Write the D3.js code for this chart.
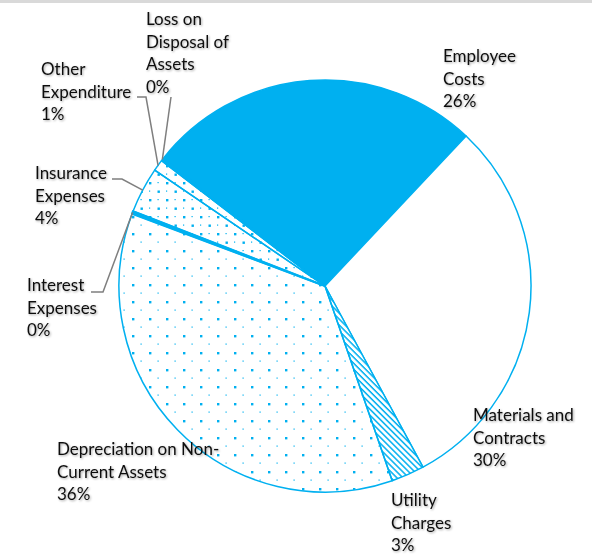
<!DOCTYPE html>
<html lang="en">
<head>
<meta charset="UTF-8">
<title>Expenditure Pie</title>
<script src="https://d3js.org/d3.v7.min.js"></script>
<style>
  body { margin: 0; background: #fff; }
  svg { display: block; }
  .lbl { font-family: Lato, "Noto Sans", sans-serif; font-size: 17px; fill: #111; }
</style>
</head>
<body>
<div id="chart"></div>
<script>
// data (percent of total expenditure)
const categories = ["Employee Costs", "Materials and Contracts", "Utility Charges",
  "Depreciation on Non-Current Assets", "Interest Expenses", "Insurance Expenses",
  "Other Expenditure", "Loss on Disposal of Assets"];
const values = [26.4, 30.1, 2.6, 36.0, 0.2, 3.6, 0.9, 0.2];
const pctLabels = ["26%", "30%", "3%", "36%", "0%", "4%", "1%", "0%"];
const labelLines = [
  ["Employee", "Costs"],
  ["Materials and", "Contracts"],
  ["Utility", "Charges"],
  ["Depreciation on Non-", "Current Assets"],
  ["Interest", "Expenses"],
  ["Insurance", "Expenses"],
  ["Other", "Expenditure"],
  ["Loss on", "Disposal of", "Assets"]
];

const width = 592, height = 559;
const cx = 325, cy = 286, r = 206;
const blue = "#00B0F0";
const startDeg = -51.8;

// where each label block sits (left x, first baseline y) and its elbow, if any
const labelAt = [[443, 62], [473, 421], [391, 506], [57, 455], [27, 291], [35, 179], [41, 75], [146, 25]];
const elbow = [null, null, null, null, [[91, 292], [103, 292]], [[112, 179], [122, 179]], [[137, 97], [146, 97]], [[171, 97]]];

const svg = d3.select("#chart").append("svg")
  .attr("width", width).attr("height", height);

svg.append("rect").attr("width", width).attr("height", 3).attr("fill", "#d9d9d9");

const defs = svg.append("defs");

// sparse dots
const p1 = defs.append("pattern").attr("id", "dots").attr("patternUnits", "userSpaceOnUse")
  .attr("x", 11).attr("y", 15).attr("width", 17).attr("height", 17);
p1.append("rect").attr("x", 0).attr("y", 0).attr("width", 2.4).attr("height", 2.4).attr("fill", blue);
p1.append("rect").attr("x", 8.5).attr("y", 8.5).attr("width", 1.2).attr("height", 1.2).attr("fill", blue);

// denser dots
const p2 = defs.append("pattern").attr("id", "dots2").attr("patternUnits", "userSpaceOnUse")
  .attr("x", 11).attr("y", 15).attr("width", 17).attr("height", 17);
p2.append("rect").attr("x", 0).attr("y", 0).attr("width", 2.4).attr("height", 2.4).attr("fill", blue);
p2.append("rect").attr("x", 8.5).attr("y", 8.5).attr("width", 2.4).attr("height", 2.4).attr("fill", blue);
p2.append("rect").attr("x", 8.5).attr("y", 0).attr("width", 1.2).attr("height", 1.2).attr("fill", blue);
p2.append("rect").attr("x", 0).attr("y", 8.5).attr("width", 1.2).attr("height", 1.2).attr("fill", blue);

// downward diagonal stripes
const p3 = defs.append("pattern").attr("id", "stripes").attr("patternUnits", "userSpaceOnUse")
  .attr("width", 4.2).attr("height", 4.2).attr("patternTransform", "rotate(45)");
p3.append("rect").attr("width", 4.2).attr("height", 4.2).attr("fill", "#fff");
p3.append("rect").attr("x", 0).attr("y", 0).attr("width", 4.2).attr("height", 1.5).attr("fill", blue);

const shadow = defs.append("filter").attr("id", "shadow").attr("x", "-10%").attr("y", "-10%")
  .attr("width", "130%").attr("height", "150%");
shadow.append("feDropShadow").attr("dx", 1).attr("dy", 1).attr("stdDeviation", 0.8)
  .attr("flood-color", "#000").attr("flood-opacity", 0.35);

const fills = [blue, "#fff", "url(#stripes)", "url(#dots)", blue, "url(#dots2)", "url(#dots2)", blue];

const start = startDeg * Math.PI / 180;
const pie = d3.pie().sort(null).value(d => d).startAngle(start).endAngle(start + 2 * Math.PI);
const arcs = pie(values);
const arc = d3.arc().innerRadius(0).outerRadius(r);

const g = svg.append("g").attr("transform", `translate(${cx},${cy})`);

g.selectAll("path.slice")
  .data(arcs)
  .join("path")
  .attr("class", "slice")
  .attr("d", arc)
  .attr("fill", (d, i) => fills[i])
  .attr("stroke", blue)
  .attr("stroke-width", (d, i) => i === 4 ? 2.2 : 1.5)
  .attr("stroke-linejoin", "round");

// leader lines to the small slices
const edge = d => {
  const a = (d.startAngle + d.endAngle) / 2;
  return [cx + r * Math.sin(a), cy - r * Math.cos(a)];
};
arcs.forEach((d, i) => {
  if (!elbow[i]) return;
  const pts = elbow[i].concat([edge(d)]);
  svg.append("path")
    .attr("d", d3.line()(pts))
    .attr("fill", "none")
    .attr("stroke", "#7f7f7f")
    .attr("stroke-width", 1.5);
});

// labels
const lg = svg.append("g").attr("filter", "url(#shadow)");
categories.forEach((c, i) => {
  const t = lg.append("text").attr("class", "lbl")
    .attr("x", labelAt[i][0]).attr("y", labelAt[i][1]);
  labelLines[i].concat([pctLabels[i]]).forEach((s, k) => {
    t.append("tspan").attr("x", labelAt[i][0]).attr("dy", k === 0 ? 0 : 22.6).text(s);
  });
});
</script>
</body>
</html>
